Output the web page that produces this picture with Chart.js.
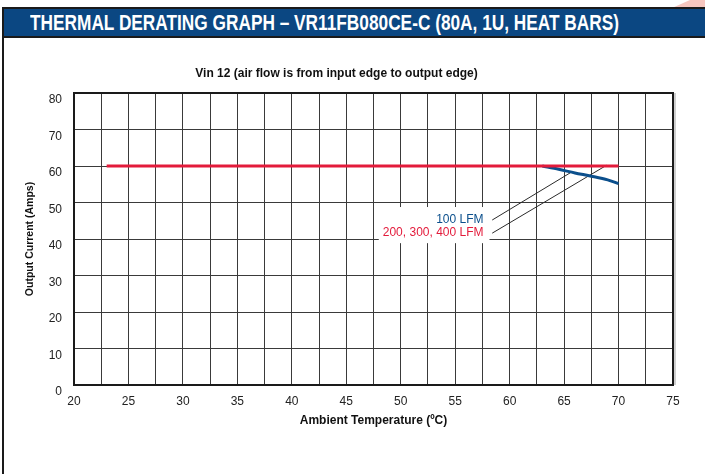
<!DOCTYPE html>
<html>
<head>
<meta charset="utf-8">
<script src="https://cdn.jsdelivr.net/npm/chart.js@4.4.1/dist/chart.umd.min.js"></script>
<style>
  html, body { margin:0; padding:0; background:#fff; }
  body { width:705px; height:474px; position:relative; overflow:hidden; }
  #deco { position:absolute; left:660px; top:0; width:45px; height:8px; background:#f6c6bf;
          clip-path: polygon(12px 8px, 30px 0, 45px 0, 45px 8px); }
  #header { position:absolute; left:2px; top:7px; width:703px; height:27px;
            background:#0b4782; border-top:2px solid #1a1a1a; border-bottom:2px solid #1a1a1a; }
  #htext { position:absolute; left:28px; top:1px; color:#fff; font-family:'Liberation Sans Narrow','Arial Narrow',sans-serif;
           font-weight:bold; font-size:21.5px; line-height:26px; white-space:nowrap; transform-origin:0 50%; }
  #leftbar { position:absolute; left:2px; top:7px; width:2px; height:467px; background:#1a1a1a; }
  #c { position:absolute; left:0; top:45px; }
</style>
</head>
<body>
<div id="deco"></div>
<div id="header"><span id="htext">THERMAL DERATING GRAPH – VR11FB080CE-C (80A, 1U, HEAT BARS)</span></div>
<div id="leftbar"></div>
<canvas id="c" width="705" height="429"></canvas>
<script>
// ---- data ----
const redTemps = [23, 70];
const redCurrent = [60, 60];
const blueTemps = [63, 64.5, 66, 67.5, 69, 70];
const blueCurrent = [60, 59.1, 58.1, 57.2, 56.2, 55.2];
const leader1Temps = [58.4, 65.6];
const leader1Current = [45.2, 58.2];
const leader2Temps = [58.4, 68.9];
const leader2Current = [41.6, 60.2];
const labelTexts = ['100 LFM', '200, 300, 400 LFM'];
const labelTemps = [57.6, 57.6];
const labelCurrents = [45.2, 41.6];
const xTicks = [20, 25, 30, 35, 40, 45, 50, 55, 60, 65, 70, 75];
const yTicks = [0, 10, 20, 30, 40, 50, 60, 70, 80];

// fit header text width
(function(){
  const h = document.getElementById('htext');
  const w = h.getBoundingClientRect().width;
  h.style.transform = 'scaleX(' + (589 / w) + ')';
})();

const RED = '#e31b3b', BLUE = '#0b4f8c', NARROW = "'Liberation Sans Narrow','Arial Narrow',sans-serif";
const pts = (xs, ys) => xs.map((x, i) => ({x, y: ys[i]}));

const annot = {
  id: 'annot',
  beforeDatasetsDraw(chart) {
    const {ctx, scales:{x, y}} = chart;
    ctx.save();
    ctx.font = '12px "Liberation Sans", Arial, sans-serif';
    let maxW = 0;
    labelTexts.forEach(t => maxW = Math.max(maxW, ctx.measureText(t).width));
    const rx = x.getPixelForValue(labelTemps[0]);
    const ty = y.getPixelForValue(labelCurrents[0]);
    const by = y.getPixelForValue(labelCurrents[1]);
    ctx.fillStyle = '#fff';
    ctx.fillRect(rx - maxW - 4, ty - 13, maxW + 10, by - ty + 23);
    ctx.restore();
  },
  afterDatasetsDraw(chart) {
    const {ctx, chartArea:a, scales:{x, y}} = chart;
    ctx.save();
    ctx.font = '12px "Liberation Sans", Arial, sans-serif';
    ctx.textAlign = 'right'; ctx.textBaseline = 'middle';
    const cols = [BLUE, RED];
    labelTexts.forEach((t, i) => {
      ctx.fillStyle = cols[i];
      ctx.fillText(t, x.getPixelForValue(labelTemps[i]), y.getPixelForValue(labelCurrents[i]));
    });
    // plot frame
    ctx.strokeStyle = '#cfcfcf'; ctx.lineWidth = 2;
    ctx.beginPath(); ctx.moveTo(a.right + 2, a.top); ctx.lineTo(a.right + 2, a.bottom); ctx.stroke();
    ctx.strokeStyle = '#1a1a1a'; ctx.lineWidth = 2;
    ctx.strokeRect(a.left, a.top, a.right - a.left, a.bottom - a.top);
    ctx.restore();
  }
};

new Chart(document.getElementById('c'), {
  type: 'line',
  data: {
    datasets: [
      { data: pts(redTemps, redCurrent), borderColor: RED, borderWidth: 3, pointRadius: 0, tension: 0 },
      { data: pts(blueTemps, blueCurrent), borderColor: BLUE, borderWidth: 3, pointRadius: 0, tension: 0.3 },
      { data: pts(leader1Temps, leader1Current), borderColor: '#2a2a2a', borderWidth: 1, pointRadius: 0 },
      { data: pts(leader2Temps, leader2Current), borderColor: '#2a2a2a', borderWidth: 1, pointRadius: 0 }
    ]
  },
  options: {
    responsive: false, animation: false,
    layout: { padding: { left: 0, right: 32, top: 0, bottom: 0 } },
    plugins: {
      legend: { display: false }, tooltip: { enabled: false },
      title: { display: true, text: 'Vin 12 (air flow is from input edge to output edge)', color: '#111',
               font: { family: NARROW, size: 12, weight: 'bold' }, padding: { top: 21.8, bottom: 11.8 } }
    },
    scales: {
      x: {
        type: 'linear', min: 20, max: 75,
        afterFit(s) { s.height = 89; },
        afterBuildTicks(s) {
          const t = []; for (let v = 20; v <= 75; v += 2.5) t.push({ value: v }); s.ticks = t;
        },
        grid: { color: '#3a3a3a', lineWidth: 1, drawTicks: false },
        border: { display: false },
        ticks: { padding: 9, color: '#222', font: { family: '"Liberation Sans", Arial, sans-serif', size: 12 },
                 autoSkip: false, maxRotation: 0,
                 callback: v => xTicks.includes(v) ? String(v) : '' },
        title: { display: true, text: 'Ambient Temperature (ºC)', color: '#111',
                 font: { family: NARROW, size: 12, weight: 'bold' }, padding: { top: 0, bottom: 45.8 } }
      },
      y: {
        min: 0, max: 80,
        afterFit(s) { s.width = 74; },
        afterBuildTicks(s) { s.ticks = yTicks.map(v => ({ value: v })); },
        grid: { color: '#3a3a3a', lineWidth: 1, drawTicks: false },
        border: { display: false },
        ticks: { padding: 12, labelOffset: 7, color: '#222',
                 font: { family: '"Liberation Sans", Arial, sans-serif', size: 12 } },
        title: { display: true, text: 'Output Current (Amps)', color: '#111',
                 font: { family: NARROW, size: 10.5, weight: 'bold' }, padding: { top: 23.7, bottom: 0 } }
      }
    }
  },
  plugins: [annot]
});
</script>
</body>
</html>
